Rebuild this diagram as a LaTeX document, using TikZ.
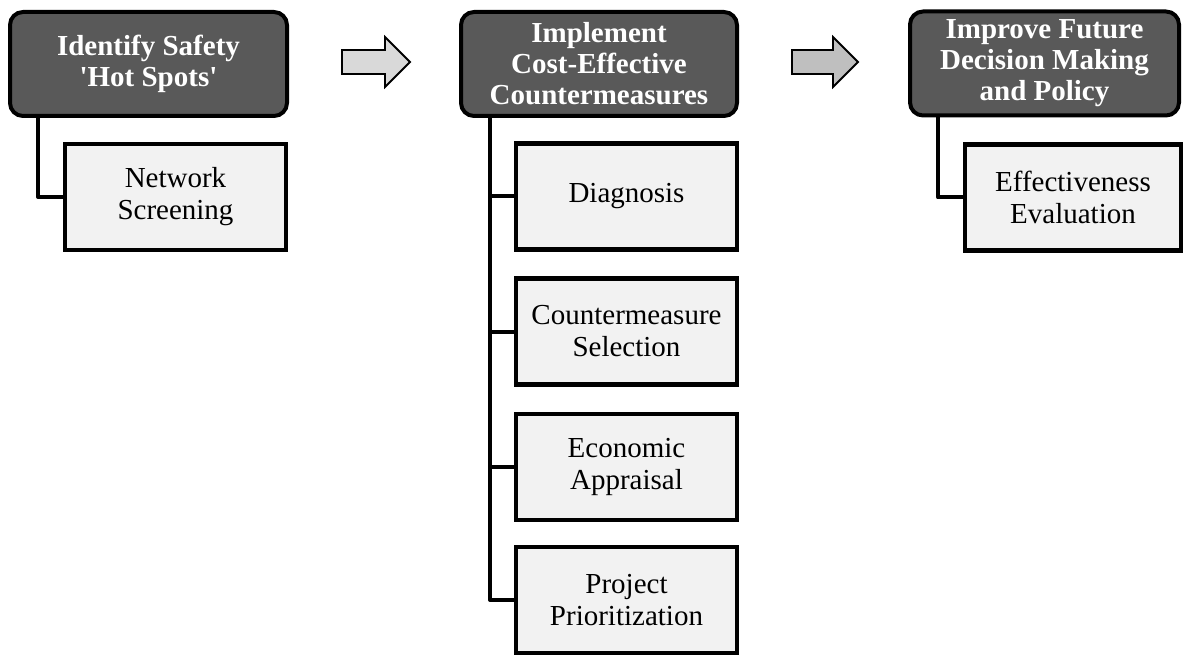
\documentclass[tikz,border=0pt]{standalone}
\usepackage{fontspec}
\setmainfont{Liberation Serif}
\newcommand{\straightq}{\XeTeXglyph\XeTeXcharglyph"0027\relax}
\definecolor{hdrfill}{HTML}{595959}
\definecolor{boxfill}{HTML}{F2F2F2}
\definecolor{arrA}{HTML}{D9D9D9}
\definecolor{arrB}{HTML}{BFBFBF}
\tikzset{
  hdr/.style={draw=black, line width=4pt, fill=hdrfill, rounded corners=13pt,
    text=white, font=\bfseries\fontsize{29}{31}\selectfont, align=center,
    inner sep=0pt, minimum height=104pt},
  sub/.style={draw=black, line width=4.3pt, fill=boxfill,
    font=\fontsize{29}{32}\selectfont, align=center,
    inner sep=0pt, minimum width=221pt, minimum height=106pt},
  conn/.style={draw=black, line width=4pt, line join=round},
  blockarrow/.style={draw=black, line width=1.8pt, line join=miter}
}
\begin{document}
\begin{tikzpicture}[x=1pt,y=-1pt]
\useasboundingbox (0,0) rectangle (1184,655);
% headers
\node[hdr, minimum width=277pt] (h1) at (148.5,64) {Identify Safety\\\straightq Hot Spots\straightq};
\node[hdr, minimum width=276pt] (h2) at (599,64) {Implement\\Cost-Effective\\Countermeasures};
\node[hdr, minimum width=269pt] (h3) at (1044.5,63.5) {Improve Future\\Decision Making\\and Policy};
% sub boxes
\node[sub] (ns) at (175.5,197) {Network\\Screening};
\node[sub] (dg) at (626.5,196.5) {Diagnosis};
\node[sub] (cs) at (626.5,331.5) {Countermeasure\\Selection};
\node[sub] (ea) at (626.5,467) {Economic\\Appraisal};
\node[sub] (pp) at (626.5,600) {Project\\Prioritization};
\node[sub, minimum width=216pt] (ee) at (1073,197.5) {Effectiveness\\Evaluation};
% connectors
\draw[conn] ([xshift=30pt]h1.south west) |- (ns.west);
\draw[conn] ([xshift=31pt]h2.south west) |- (pp.west);
\draw[conn] ([xshift=31pt]h2.south west) |- (dg.west);
\draw[conn] ([xshift=31pt]h2.south west) |- (cs.west);
\draw[conn] ([xshift=31pt]h2.south west) |- (ea.west);
\draw[conn] ([xshift=30pt]h3.south west) |- (ee.west);
% block arrows
\draw[blockarrow, fill=arrA] (342,50) -- (385,50) -- (385,37) -- (410,62) -- (385,87) -- (385,74) -- (342,74) -- cycle;
\draw[blockarrow, fill=arrB] (792,50) -- (833,50) -- (833,37) -- (858,62) -- (833,87) -- (833,74) -- (792,74) -- cycle;
\end{tikzpicture}
\end{document}
